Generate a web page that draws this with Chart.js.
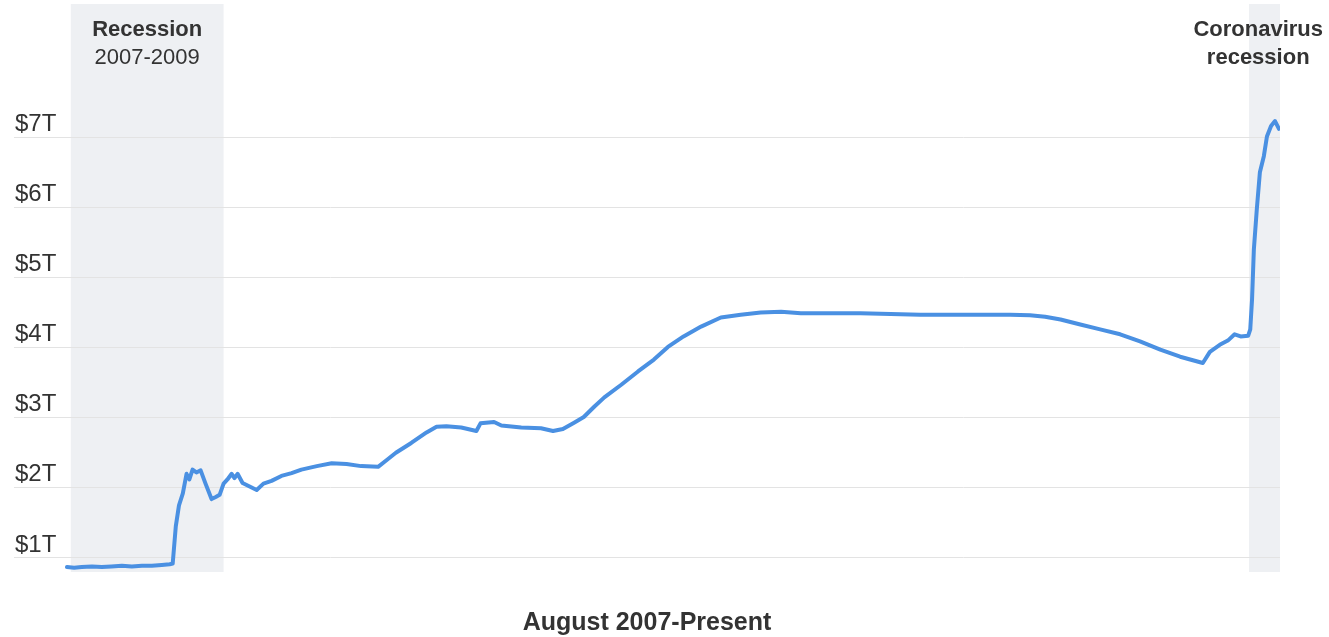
<!DOCTYPE html>
<html>
<head>
<meta charset="utf-8">
<script src="https://cdn.jsdelivr.net/npm/chart.js@4/dist/chart.umd.min.js"></script>
<style>
  html, body { margin: 0; padding: 0; background: #ffffff; }
  #wrap { width: 1329px; height: 637px; position: relative; }
</style>
</head>
<body>
<div id="wrap"><canvas id="chart"></canvas></div>
<script>
// Federal Reserve total assets, trillions of US dollars
const dates = [
  '2007-08-01','2007-08-29','2007-09-28','2007-11-07','2007-12-15',
  '2008-01-22','2008-03-02','2008-04-10','2008-05-19','2008-06-27',
  '2008-08-05','2008-09-05','2008-09-17','2008-09-29','2008-10-11',
  '2008-10-26','2008-11-10','2008-11-21','2008-12-03','2008-12-18',
  '2009-01-04','2009-01-23','2009-02-16','2009-03-02','2009-03-17',
  '2009-04-02','2009-04-17','2009-05-03','2009-05-14','2009-05-26',
  '2009-06-15','2009-07-12','2009-08-09','2009-09-05','2009-10-06',
  '2009-11-14','2009-12-23','2010-01-31','2010-03-30','2010-05-27',
  '2010-07-24','2010-09-20','2010-11-25','2010-12-26','2011-02-03',
  '2011-04-02','2011-05-31','2011-07-09','2011-08-17','2011-10-14',
  '2011-12-12','2011-12-28','2012-02-20','2012-03-18','2012-06-04',
  '2012-08-20','2012-10-06','2012-11-14','2012-12-27','2013-02-04',
  '2013-03-15','2013-04-23','2013-06-28','2013-09-02','2013-11-03',
  '2013-12-27','2014-02-27','2014-05-04','2014-07-20','2014-10-06',
  '2014-12-23','2015-03-11','2015-05-27','2015-09-21','2016-01-15',
  '2016-05-11','2016-09-05','2017-01-01','2017-04-27','2017-08-20',
  '2017-11-06','2018-01-04','2018-03-03','2018-05-19','2018-08-05',
  '2018-10-22','2019-01-08','2019-03-26','2019-06-12','2019-09-09',
  '2019-10-06','2019-11-14','2019-12-15','2020-01-11','2020-02-04',
  '2020-03-03','2020-03-11','2020-03-18','2020-03-25','2020-04-06',
  '2020-04-18','2020-05-03','2020-05-15','2020-05-31','2020-06-16',
  '2020-07-01'
];
const assets = [
  0.87, 0.86, 0.87, 0.88, 0.87,
  0.88, 0.89, 0.88, 0.89, 0.89,
  0.90, 0.91, 0.92, 1.45, 1.75,
  1.92, 2.20, 2.12, 2.26, 2.22,
  2.25, 2.06, 1.84, 1.87, 1.90,
  2.06, 2.12, 2.20, 2.14, 2.20,
  2.07, 2.02, 1.97, 2.06, 2.10,
  2.17, 2.21, 2.26, 2.31, 2.35,
  2.34, 2.31, 2.30, 2.39, 2.50,
  2.64, 2.79, 2.87, 2.88, 2.86,
  2.81, 2.92, 2.94, 2.89, 2.86,
  2.85, 2.81, 2.84, 2.93, 3.01,
  3.16, 3.29, 3.47, 3.66, 3.83,
  4.01, 4.16, 4.30, 4.43, 4.47,
  4.50, 4.51, 4.49, 4.49, 4.49,
  4.48, 4.47, 4.47, 4.47, 4.47,
  4.46, 4.44, 4.40, 4.33, 4.26,
  4.19, 4.09, 3.97, 3.87, 3.78,
  3.94, 4.04, 4.10, 4.19, 4.16,
  4.17, 4.26, 4.69, 5.40, 5.97,
  6.50, 6.73, 7.01, 7.16, 7.23,
  7.12
];
const tickValues = [1, 2, 3, 4, 5, 6, 7];
const axisStart = '2007-01-08';
const axisEnd = '2020-07-05';
const recessionBands = [['2007-08-16', '2009-04-02'], ['2020-03-06', '2020-07-05']];
const bandTitles = ['Recession', 'Coronavirus'];
const bandSubtitles = ['2007-2009', 'recession'];
const xTitle = 'August 2007-Present';

// 'YYYY-MM-DD' -> decimal year
function toYear(s) {
  const [y, m, d] = s.split('-').map(Number);
  return y + (m - 1) / 12 + ((d || 1) - 1) / 365;
}

const FONT = "'Liberation Sans', Arial, Helvetica, sans-serif";

// Shaded recession periods with their captions
const bandPlugin = {
  id: 'recessionBands',
  beforeDraw(chart, args, opts) {
    const { ctx, chartArea, scales: { x } } = chart;
    ctx.save();
    ctx.fillStyle = opts.fill;
    recessionBands.forEach(([a, b]) => {
      const x0 = x.getPixelForValue(toYear(a));
      const x1 = x.getPixelForValue(toYear(b));
      ctx.fillRect(x0, chartArea.top, x1 - x0, chartArea.bottom - chartArea.top);
    });
    ctx.restore();
  },
  afterDatasetsDraw(chart, args, opts) {
    const { ctx, scales: { x } } = chart;
    ctx.save();
    ctx.fillStyle = opts.textColor;
    ctx.textAlign = 'center';
    ctx.textBaseline = 'alphabetic';
    recessionBands.forEach(([a, b], i) => {
      const x0 = x.getPixelForValue(toYear(a));
      const x1 = x.getPixelForValue(toYear(b));
      let cx = (x0 + x1) / 2;
      const boldFont = 'bold ' + opts.size + 'px ' + FONT;
      const subFont = opts.subWeights[i] + ' ' + opts.size + 'px ' + FONT;
      ctx.font = boldFont;
      const w1 = ctx.measureText(bandTitles[i]).width;
      ctx.font = subFont;
      const w2 = ctx.measureText(bandSubtitles[i]).width;
      const half = Math.max(w1, w2) / 2;
      const limit = chart.width - opts.edge;
      if (cx + half > limit) cx = limit - half;
      ctx.font = boldFont;
      ctx.fillText(bandTitles[i], cx, opts.line1);
      ctx.font = subFont;
      ctx.fillText(bandSubtitles[i], cx, opts.line2);
    });
    ctx.restore();
  }
};

new Chart(document.getElementById('chart'), {
  type: 'line',
  data: {
    datasets: [{
      data: dates.map((d, i) => ({ x: toYear(d), y: assets[i] })),
      borderColor: '#4a90e2',
      borderWidth: 4,
      pointRadius: 0,
      tension: 0,
      fill: false,
      borderJoinStyle: 'round',
      borderCapStyle: 'round'
    }]
  },
  options: {
    responsive: true,
    maintainAspectRatio: false,
    animation: false,
    events: [],
    layout: { padding: { left: 12, right: 49, top: 4, bottom: 1 } },
    plugins: {
      legend: { display: false },
      tooltip: { enabled: false },
      recessionBands: {
        fill: '#eef0f3',
        textColor: '#333333',
        size: 22,
        line1: 36,
        line2: 64,
        edge: 6,
        subWeights: ['normal', 'bold']
      }
    },
    scales: {
      x: {
        type: 'linear',
        min: toYear(axisStart),
        max: toYear(axisEnd),
        grid: { display: false, drawTicks: false },
        border: { display: false },
        ticks: { display: false },
        title: {
          display: true,
          text: xTitle,
          color: '#333333',
          font: { family: FONT, size: 25, weight: 'bold', lineHeight: 1.2 },
          padding: { top: 36, bottom: -2 }
        }
      },
      y: {
        min: 0.8,
        max: 8.9,
        afterBuildTicks(scale) {
          scale.ticks = tickValues.map(v => ({ value: v }));
        },
        afterFit(scale) {
          // labels sit inside the plot, so no extra room above/below
          scale.paddingTop = 0;
          scale.paddingBottom = 0;
        },
        border: { display: false },
        grid: { color: '#e3e3e3', lineWidth: 1, drawTicks: false },
        ticks: {
          mirror: true,
          padding: 1,
          labelOffset: -13,
          color: '#333333',
          font: { family: FONT, size: 24 },
          callback: v => '$' + v + 'T'
        }
      }
    }
  },
  plugins: [bandPlugin]
});
</script>
</body>
</html>
